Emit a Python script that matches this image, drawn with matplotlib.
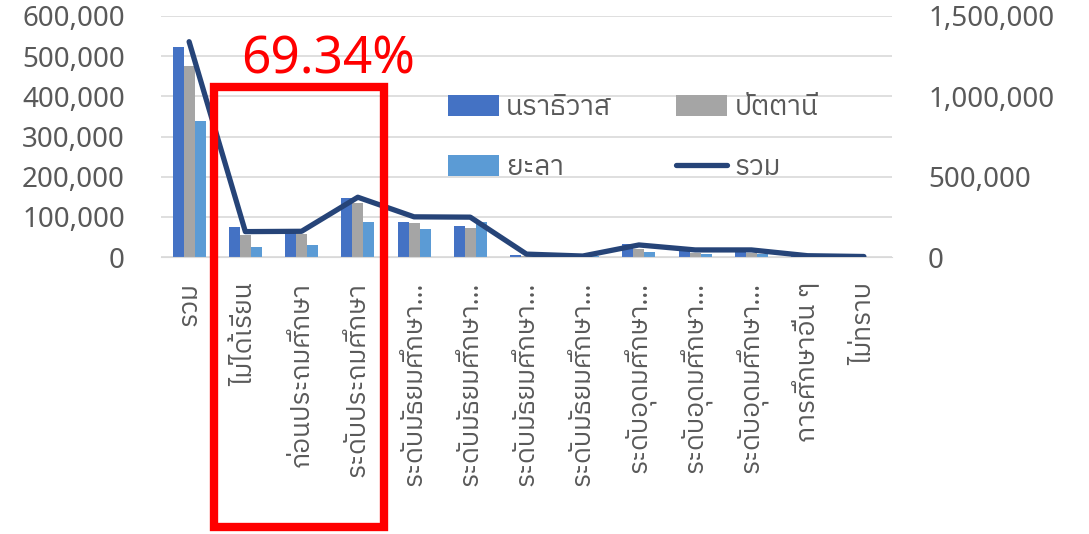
import matplotlib
matplotlib.use("Agg")
import matplotlib.pyplot as plt
from matplotlib import font_manager
from matplotlib.ft2font import FT2Font
from matplotlib.patches import Rectangle
from matplotlib.ticker import FuncFormatter
import numpy as np

# data
categories = ["รวม", "ไม่ได้เรียน", "ก่อนประถมศึกษา", "ระดับประถมศึกษา",
              "ระดับมัธยมศึกษา…", "ระดับมัธยมศึกษา…", "ระดับมัธยมศึกษา…",
              "ระดับมัธยมศึกษา…", "ระดับอุดมศึกษา…", "ระดับอุดมศึกษา…",
              "ระดับอุดมศึกษา…", "การศึกษาอื่น ๆ", "ไม่ทราบ"]
narathiwat = [522000, 75000, 70000, 146000, 88000, 77000, 6000, 3000, 32000, 15000, 15000, 3000, 1000]
pattani = [476000, 55000, 58000, 135000, 85000, 72000, 3000, 2000, 21000, 9000, 9000, 2000, 1000]
yala = [339000, 25000, 30000, 88000, 70000, 88000, 3000, 2000, 12000, 8000, 8000, 2000, 1000]
total = [1340000, 158000, 160000, 372000, 250000, 248000, 18000, 6000, 75000, 44000, 44000, 8000, 3000]
highlight_text = "69.34%"


def find_thai_font():
    # matplotlib needs a family that actually has Thai glyphs
    fonts = sorted(font_manager.fontManager.ttflist, key=lambda f: "Thai" not in f.name)
    for f in fonts:
        try:
            if FT2Font(f.fname).get_char_index(0x0E01):
                return f.name
        except Exception:
            pass
    return None


thai = find_thai_font()
fams = ["Noto Sans"] + ([thai] if thai else []) + ["DejaVu Sans"]
plt.rcParams["font.family"] = fams

grey = "#595959"
W, H = 1089, 534
fig = plt.figure(figsize=(W / 100, H / 100), dpi=100)
left, right, top, bottom = 161, 892, 16, 257
ax = fig.add_axes([left / W, 1 - bottom / H, (right - left) / W, (bottom - top) / H])

x = np.arange(len(categories))
bw = 0.196
ax.bar(x - bw, narathiwat, bw, color="#4472C4", label="นราธิวาส", zorder=2)
ax.bar(x, pattani, bw, color="#A5A5A5", label="ปัตตานี", zorder=2)
ax.bar(x + bw, yala, bw, color="#5B9BD5", label="ยะลา", zorder=2)
ax.set_xlim(-0.5, len(categories) - 0.5)
ax.set_ylim(0, 600000)
ax.set_yticks(np.arange(0, 600001, 100000))
ax.yaxis.set_major_formatter(FuncFormatter(lambda v, p: f"{int(v):,}"))
ax.grid(axis="y", color="#D9D9D9", linewidth=1.2, zorder=0)
ax.set_axisbelow(True)
for s in ax.spines.values():
    s.set_visible(False)
ax.spines["bottom"].set_visible(True)
ax.spines["bottom"].set_color("#D9D9D9")
ax.set_xticks(x)
ax.set_xticklabels(categories, rotation=90)
ax.tick_params(axis="x", length=0, pad=18, labelsize=19, labelcolor=grey)
ax.tick_params(axis="y", length=0, pad=26, labelsize=20, labelcolor=grey)

ax2 = ax.twinx()
ax2.plot(x, total, color="#264478", linewidth=3.8, solid_capstyle="round",
         solid_joinstyle="round", label="รวม", zorder=3)
ax2.set_ylim(0, 1500000)
ax2.set_yticks([0, 500000, 1000000, 1500000])
ax2.yaxis.set_major_formatter(FuncFormatter(lambda v, p: f"{int(v):,}"))
ax2.tick_params(axis="y", length=0, pad=26, labelsize=20, labelcolor=grey)
for s in ax2.spines.values():
    s.set_visible(False)

h1, l1 = ax.get_legend_handles_labels()
h2, l2 = ax2.get_legend_handles_labels()
handles = [h1[0], h1[2], h1[1], h2[0]]
labels = [l1[0], l1[2], l1[1], l2[0]]
leg = ax2.legend(handles, labels, ncol=2, loc="upper left",
                 bbox_to_anchor=(434 / W, 1 - 80 / H), bbox_transform=fig.transFigure,
                 frameon=False, fontsize=20, handlelength=1.85, handleheight=0.8,
                 handletextpad=0.25, columnspacing=2.3, labelspacing=1.15, borderpad=0)
for t in leg.get_texts():
    t.set_color(grey)

# red box and percentage
fig.patches.append(Rectangle((214 / W, 1 - 527 / H), 170 / W, 440 / H,
                             transform=fig.transFigure, fill=False,
                             edgecolor="#FF0000", linewidth=6, zorder=10))
fig.text(328 / W, 1 - 60 / H, highlight_text, color="#FF0000", fontsize=37,
         ha="center", va="center")

fig.savefig("out.png", dpi=100)
